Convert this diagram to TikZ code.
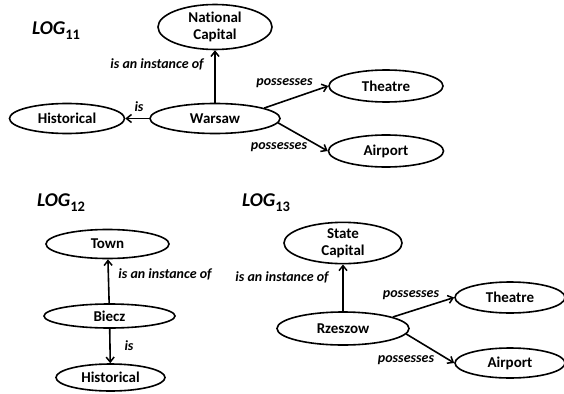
\documentclass[tikz,border=0pt]{standalone}
\usepackage{fontspec}
\setmainfont{Carlito}[Ligatures={NoCommon,NoContextual}]
\usetikzlibrary{shapes.geometric,arrows.meta}

\tikzset{
  concept/.style={ellipse, draw, line width=1.6pt, inner sep=0pt,
    font=\fontsize{15}{17}\selectfont\bfseries, align=center},
  rel/.style={line width=1.6pt, -{Straight Barb[length=5pt,width=8pt,line width=1.5pt]}},
  lbl/.style={inner sep=0pt, font=\fontsize{14}{16}\selectfont\bfseries\itshape},
  title/.style={inner sep=0pt, anchor=base west, font=\fontsize{19.5}{22}\selectfont\bfseries\itshape}
}

\newcommand{\logname}[1]{LOG\raisebox{-5pt}{\fontsize{14.5}{15}\selectfont\upshape #1}}

\begin{document}
\begin{tikzpicture}[x=1pt, y=-1pt]
  \useasboundingbox (0,0) rectangle (564,393);

  % --- LOG 11 ---
  \node[title] (t11) at (32,35) {\logname{11}};
  \node[concept, minimum width=114pt, minimum height=45pt] (natcap) at (215,27) {National\\Capital};
  \node[concept, minimum width=130pt, minimum height=30pt] (warsaw) at (215,118.5) {Warsaw};
  \node[concept, minimum width=115pt, minimum height=30pt] (hist1) at (67,118.5) {Historical};
  \node[concept, minimum width=114pt, minimum height=32pt] (theatre1) at (386,86) {Theatre};
  \node[concept, minimum width=115pt, minimum height=32pt] (airport1) at (386,151) {Airport};

  \draw[rel] (warsaw) -- (natcap);
  \draw[rel] (warsaw) -- (hist1);
  \draw[rel] (warsaw.12) -- (theatre1.west);
  \draw[rel] (warsaw.-4) -- (airport1.west);

  \node[lbl] (l11a) at (157,64) {is an instance of};
  \node[lbl] (l11b) at (139,107) {is};
  \node[lbl] (l11c) at (284.5,83) {possesses};
  \node[lbl] (l11d) at (279,147) {possesses};

  % --- LOG 12 ---
  \node[title] (t12) at (37,206) {\logname{12}};
  \node[concept, minimum width=123pt, minimum height=29pt] (town) at (107.5,244) {Town};
  \node[concept, minimum width=131pt, minimum height=24pt] (biecz) at (109.5,316) {Biecz};
  \node[concept, minimum width=109pt, minimum height=27pt] (hist2) at (110.5,377.5) {Historical};

  \draw[rel] (biecz) -- (town);
  \draw[rel] (biecz) -- (hist2);

  \node[lbl] (l12a) at (165,274) {is an instance of};
  \node[lbl] (l12b) at (129,346) {is};

  % --- LOG 13 ---
  \node[title] (t13) at (242,206) {\logname{13}};
  \node[concept, minimum width=118pt, minimum height=40pt] (statecap) at (343,243) {State\\Capital};
  \node[concept, minimum width=132pt, minimum height=33pt] (rzeszow) at (343,328.5) {Rzeszow};
  \node[concept, minimum width=110pt, minimum height=31pt] (theatre2) at (510,297.5) {Theatre};
  \node[concept, minimum width=110pt, minimum height=30pt] (airport2) at (510,363) {Airport};

  \draw[rel] (rzeszow) -- (statecap);
  \draw[rel] (rzeszow.13) -- (theatre2.west);
  \draw[rel] (rzeszow.-5) -- (airport2.west);

  \node[lbl] (l13a) at (282,277) {is an instance of};
  \node[lbl] (l13b) at (411,295) {possesses};
  \node[lbl] (l13c) at (406,360) {possesses};
\end{tikzpicture}
\end{document}
